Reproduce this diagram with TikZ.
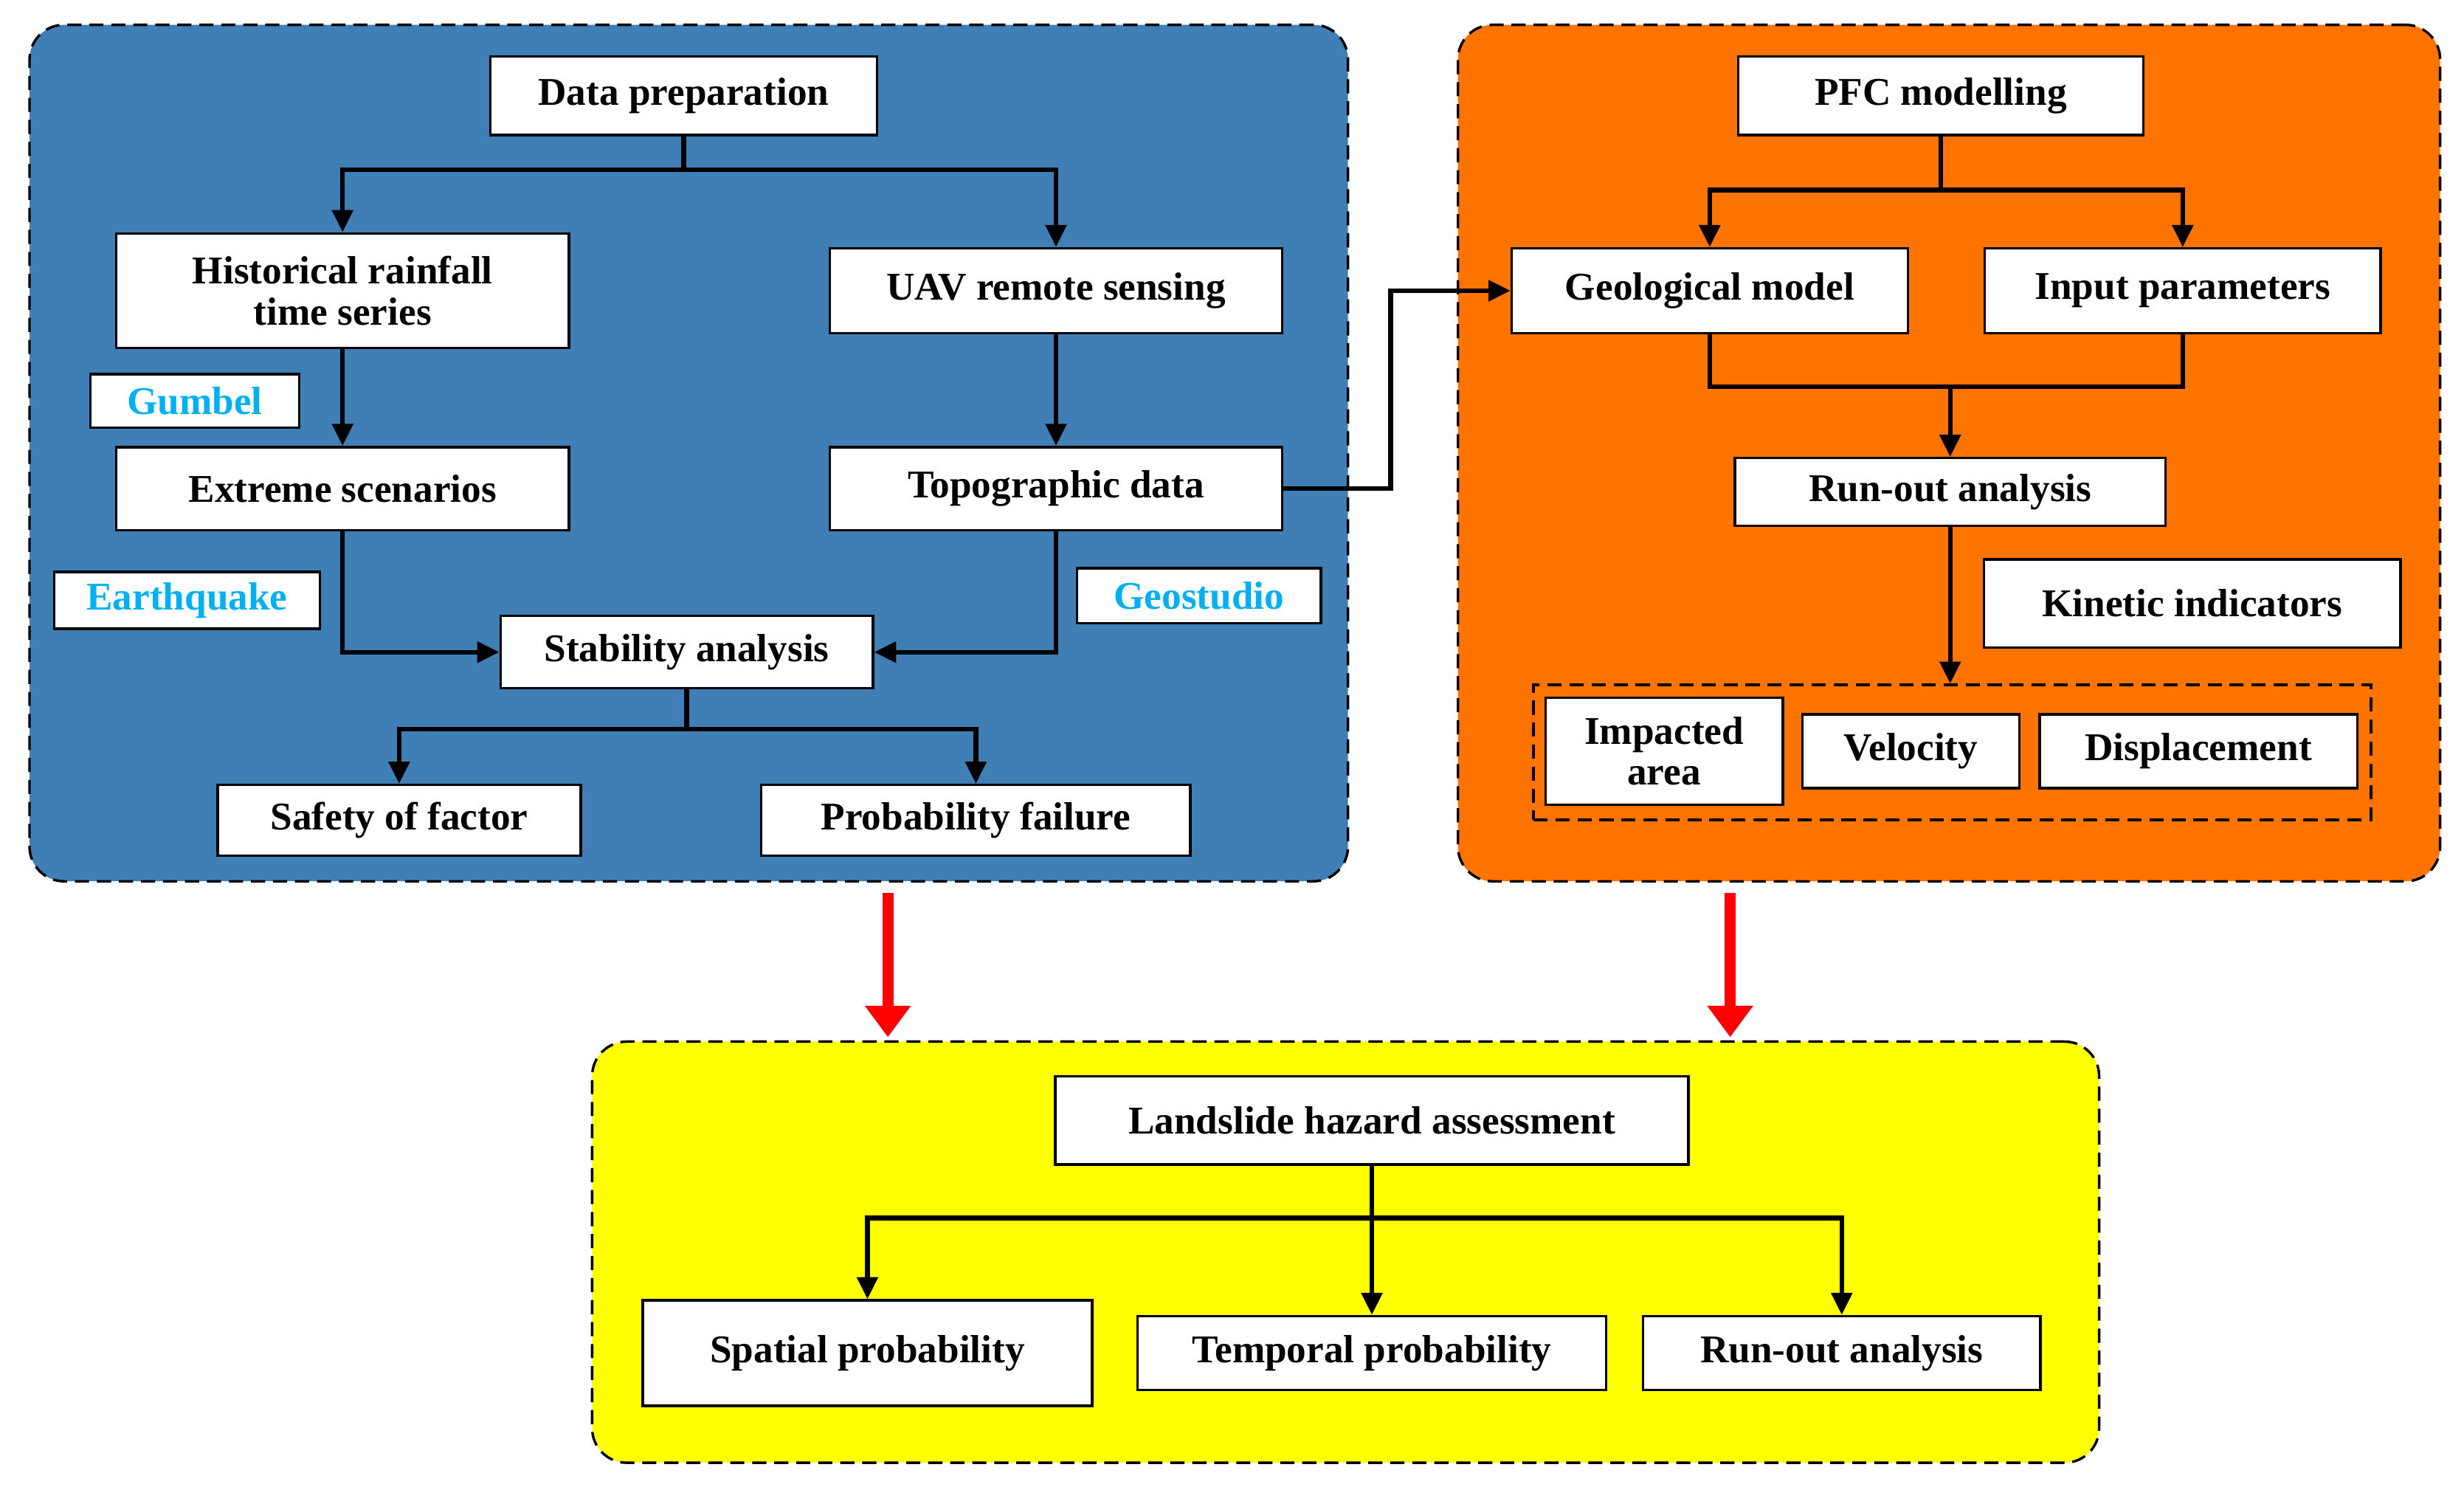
\documentclass[tikz,border=0pt]{standalone}
\usepackage{fontspec}
\setmainfont{Liberation Serif}
\usetikzlibrary{arrows.meta}
\definecolor{pblue}{HTML}{3F7FB6}
\definecolor{porange}{HTML}{FF7300}
\definecolor{pyellow}{HTML}{FFFF00}
\definecolor{lab}{HTML}{00B0F0}
\begin{document}
\begin{tikzpicture}[x=1pt,y=-1pt,
 panel/.style={draw=black,line width=1.6pt,dash pattern=on 9pt off 5pt,rounded corners=22pt},
 box/.style={draw=black,fill=white,line width=1.6pt,inner sep=0pt,align=center,font=\fontsize{25}{26}\selectfont\bfseries},
 lbl/.style={box,text=lab},
 con/.style={line width=3pt,-{Triangle[length=14pt,width=13pt]}},
 ln/.style={line width=3pt},
 red/.style={draw=red,line width=7pt,-{Triangle[length=20pt,width=28pt]}}]
\useasboundingbox (0,0) rectangle (1568,946);
\node[panel,fill=pblue,minimum width=839pt,minimum height=545pt,anchor=north west] (P1) at (18,15) {};
\node[panel,fill=porange,minimum width=625pt,minimum height=545pt,anchor=north west] (P2) at (927,15) {};
\node[panel,fill=pyellow,minimum width=959pt,minimum height=268pt,anchor=north west] (P3) at (376,662) {};
% blue
\node[box,minimum width=246pt,minimum height=50pt] (dp) at (435,61) {Data preparation};
\node[box,minimum width=288pt,minimum height=73pt] (hr) at (218,185) {Historical rainfall\\time series};
\node[box,minimum width=288pt,minimum height=54pt] (uav) at (672,185) {UAV remote sensing};
\node[lbl,minimum width=133pt,minimum height=34pt] (gu) at (124,255) {Gumbel};
\node[box,minimum width=288pt,minimum height=53pt] (ex) at (218,311) {Extreme scenarios};
\node[box,minimum width=288pt,minimum height=53pt] (tp) at (672,311) {Topographic data};
\node[lbl,minimum width=169pt,minimum height=36pt] (eq) at (119,382) {Earthquake};
\node[lbl,minimum width=155pt,minimum height=35pt] (gs) at (763,379) {Geostudio};
\node[box,minimum width=237pt,minimum height=46pt] (sa) at (437,415) {Stability analysis};
\node[box,minimum width=231pt,minimum height=45pt] (sf) at (254,522) {Safety of factor};
\node[box,minimum width=273pt,minimum height=45pt] (pf) at (621,522) {Probability failure};
\coordinate (j1) at (435,108);
\draw[ln] (dp.south) -- (j1);
\draw[con] (j1) -| (hr.north);
\draw[con] (j1) -| (uav.north);
\draw[con] (hr) -- (ex);
\draw[con] (uav) -- (tp);
\draw[con] (ex.south) |- (sa.west);
\draw[con] (tp.south) |- (sa.east);
\coordinate (j2) at (437,464);
\draw[ln] (sa.south) -- (j2);
\draw[con] (j2) -| (sf.north);
\draw[con] (j2) -| (pf.north);
% orange
\node[box,minimum width=258pt,minimum height=50pt] (pfc) at (1235,61) {PFC modelling};
\node[box,minimum width=252pt,minimum height=54pt] (gm) at (1088,185) {Geological model};
\node[box,minimum width=252pt,minimum height=54pt] (ip) at (1389,185) {Input parameters};
\node[box,minimum width=274pt,minimum height=43pt] (ro) at (1241,313) {Run-out analysis};
\node[box,minimum width=265pt,minimum height=56pt] (ki) at (1395,384) {Kinetic indicators};
\node[draw=black,line width=1.6pt,dash pattern=on 9pt off 5pt,minimum width=533pt,minimum height=86pt,anchor=north west] (kb) at (975,435) {};
\node[box,minimum width=151pt,minimum height=68pt] (ia) at (1059,478) {Impacted\\area};
\node[box,minimum width=138pt,minimum height=47pt] (ve) at (1216,478) {Velocity};
\node[box,minimum width=202pt,minimum height=47pt] (di) at (1399,478) {Displacement};
\coordinate (tj) at (885,311);
\draw[con] (tp.east) -- (tj) |- (gm.west);
\coordinate (j3) at (1235,121);
\draw[ln] (pfc.south) -- (j3);
\draw[con] (j3) -| (gm.north);
\draw[con] (j3) -| (ip.north);
\coordinate (j4) at (1241,246);
\draw[ln] (gm.south) |- (j4) -| (ip.south);
\draw[con] (j4) -- (ro.north);
\draw[con] (ro.south) -- (kb.north -| ro.south);
% red arrows
\coordinate (r1a) at (565,568); \coordinate (r1b) at (565,660);
\coordinate (r2a) at (1101,568); \coordinate (r2b) at (1101,660);
\draw[red] (r1a) -- (r1b);
\draw[red] (r2a) -- (r2b);
% yellow
\node[box,minimum width=403pt,minimum height=56pt] (lh) at (873,713) {Landslide hazard assessment};
\node[box,minimum width=286pt,minimum height=67pt] (sp) at (552,861) {Spatial probability};
\node[box,minimum width=298pt,minimum height=47pt] (te) at (873,861) {Temporal probability};
\node[box,minimum width=253pt,minimum height=47pt] (ra) at (1172,861) {Run-out analysis};
\coordinate (j5) at (873,775);
\draw[ln] (lh.south) -- (j5);
\draw[con] (j5) -| (sp.north);
\draw[con] (j5) -- (te.north);
\draw[con] (j5) -| (ra.north);
\end{tikzpicture}
\end{document}
